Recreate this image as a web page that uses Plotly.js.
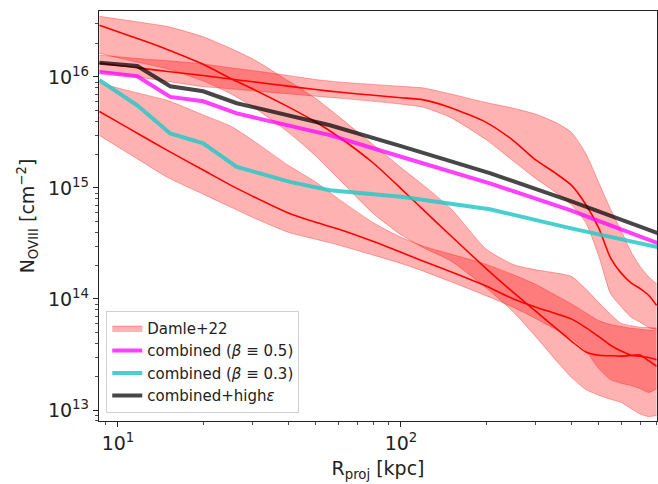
<!DOCTYPE html>
<html>
<head>
<meta charset="utf-8">
<script src="https://cdn.plot.ly/plotly-3.0.1.min.js"></script>
<style>
html,body{margin:0;padding:0;background:#fff;}
#chart{width:658px;height:484px;}
</style>
</head>
<body>
<div id="chart"></div>
<script>
// Projected radius grid for the Damle+22 bands [kpc]
const R_damle = [8.6, 10, 12, 15, 20, 25, 30, 40, 50, 60, 80, 100, 120, 150, 200, 250, 300, 350, 400, 450, 500, 550, 600, 650, 700, 750, 800];

// Damle+22 band A (steep, highest at small R)
const damleA_mid = [2.92e16, 2.55e16, 2.17e16, 1.76e16, 1.30e16, 9.69e15, 7.78e15, 5.38e15, 3.93e15, 2.91e15, 1.67e15, 9.88e14, 6.34e14, 3.71e14, 1.88e14, 1.14e14, 7.72e13, 5.54e13, 4.18e13, 3.33e13, 3.11e13, 3.08e13, 3.06e13, 3.10e13, 3.13e13, 2.78e13, 2.48e13];
const damleA_hi  = [3.52e16, 3.33e16, 3.11e16, 2.84e16, 2.30e16, 1.81e16, 1.45e16, 9.22e15, 6.38e15, 4.44e15, 2.44e15, 1.53e15, 1.06e15, 6.53e14, 2.82e14, 2.04e14, 1.83e14, 1.72e14, 1.60e14, 1.23e14, 9.28e13, 7.30e13, 6.03e13, 5.75e13, 5.57e13, 5.52e13, 5.49e13];
const damleA_lo  = [1.63e16, 1.49e16, 1.34e16, 1.18e16, 9.20e15, 7.06e15, 5.37e15, 3.17e15, 1.94e15, 1.22e15, 5.86e14, 3.79e14, 2.90e14, 2.20e14, 1.26e14, 7.59e13, 4.55e13, 2.87e13, 1.97e13, 1.53e13, 1.36e13, 1.25e13, 1.17e13, 1.03e13, 9.20e12, 8.72e12, 8.94e12];

// Damle+22 band B (flat, ~1e16 at small R)
const damleB_mid = [1.33e16, 1.27e16, 1.20e16, 1.12e16, 1.03e16, 9.57e15, 9.05e15, 8.26e15, 7.70e15, 7.31e15, 6.84e15, 6.50e15, 6.22e15, 5.29e15, 3.90e15, 2.66e15, 1.78e15, 1.37e15, 1.06e15, 7.09e14, 4.34e14, 2.35e14, 1.71e14, 1.40e14, 1.24e14, 1.08e14, 8.78e13];
const damleB_hi  = [1.57e16, 1.52e16, 1.46e16, 1.40e16, 1.31e16, 1.21e16, 1.14e16, 1.03e16, 9.48e15, 9.02e15, 8.56e15, 8.23e15, 7.96e15, 7.03e15, 5.88e15, 5.22e15, 4.61e15, 3.92e15, 3.18e15, 2.04e15, 1.12e15, 6.47e14, 4.14e14, 2.67e14, 1.96e14, 1.59e14, 1.37e14];
const damleB_lo  = [1.13e16, 1.06e16, 9.90e15, 9.11e15, 8.19e15, 7.81e15, 7.50e15, 7.05e15, 6.71e15, 6.45e15, 6.03e15, 5.69e15, 5.33e15, 4.30e15, 2.72e15, 1.74e15, 1.21e15, 9.22e14, 7.05e14, 4.86e14, 2.43e14, 1.12e14, 8.51e13, 6.84e13, 6.18e13, 5.54e13, 5.29e13];

// Damle+22 band C (lowest at small R)
const damleC_mid = [4.88e15, 3.92e15, 3.00e15, 2.17e15, 1.45e15, 1.06e15, 8.40e14, 5.95e14, 4.90e14, 4.27e14, 3.29e14, 2.63e14, 2.19e14, 1.76e14, 1.31e14, 1.00e14, 8.44e13, 7.43e13, 6.62e13, 5.53e13, 4.59e13, 3.83e13, 3.40e13, 3.12e13, 3.05e13, 2.97e13, 2.84e13];
const damleC_hi  = [8.76e15, 7.95e15, 7.07e15, 6.13e15, 4.55e15, 3.61e15, 2.68e15, 1.60e15, 1.13e15, 8.01e14, 4.85e14, 3.59e14, 2.99e14, 2.54e14, 2.05e14, 1.65e14, 1.35e14, 1.09e14, 9.03e13, 7.53e13, 6.39e13, 5.90e13, 5.66e13, 5.46e13, 5.35e13, 5.25e13, 5.15e13];
const damleC_lo  = [2.97e15, 2.34e15, 1.76e15, 1.24e15, 8.80e14, 6.73e14, 5.41e14, 3.99e14, 3.45e14, 3.07e14, 2.48e14, 2.09e14, 1.78e14, 1.43e14, 1.07e14, 8.40e13, 6.65e13, 5.37e13, 4.43e13, 3.41e13, 2.36e13, 1.88e13, 1.74e13, 1.66e13, 1.56e13, 1.44e13, 1.55e13];

// Model curves
const R_model   = [8.6, 11.7, 15.3, 20.0, 26.3, 40.5, 56.1, 100, 206, 396, 809];
const N_beta05  = [1.109e16, 1.015e16, 6.61e15, 6.04e15, 4.69e15, 3.67e15, 2.99e15, 1.91e15, 1.10e15, 6.31e14, 3.18e14];
const N_beta03  = [9.34e15, 5.56e15, 3.10e15, 2.52e15, 1.55e15, 1.135e15, 9.55e14, 8.35e14, 6.44e14, 4.35e14, 2.93e14];
const N_highEps = [1.343e16, 1.256e16, 8.25e15, 7.43e15, 5.80e15, 4.52e15, 3.67e15, 2.38e15, 1.36e15, 7.65e14, 3.92e14];

const legendNames = ['Damle+22', 'combined (<i>β</i> ≡ 0.5)', 'combined (<i>β</i> ≡ 0.3)', 'combined+high<i>ε</i>'];

// Tick labels
const xTickVals = [10, 100];
const xTickText = ['10<sup>1</sup>', '10<sup>2</sup>'];
const yTickVals = [1e13, 1e14, 1e15, 1e16];
const yTickText = ['10<sup>13</sup>', '10<sup>14</sup>', '10<sup>15</sup>', '10<sup>16</sup>'];

function minorVals(lo, hi) {
  const v = [];
  for (let e = lo; e <= hi; e++) for (let m = 2; m <= 9; m++) v.push(m * Math.pow(10, e));
  return v;
}

const fillCol = 'rgba(255,0,0,0.3)';
const edgeCol = 'rgba(255,0,0,0.3)';
const spl = {shape: 'spline', smoothing: 0.6};

function band(hi, lo, first) {
  return [
    {x: R_damle, y: hi, type: 'scatter', mode: 'lines', line: Object.assign({color: edgeCol, width: 1}, spl),
     showlegend: false, hoverinfo: 'skip'},
    {x: R_damle, y: lo, type: 'scatter', mode: 'lines', line: Object.assign({color: edgeCol, width: 1}, spl),
     fill: 'tonexty', fillcolor: fillCol, name: legendNames[0], showlegend: first, hoverinfo: 'skip'}
  ];
}
function mid(y) {
  return {x: R_damle, y: y, type: 'scatter', mode: 'lines', line: Object.assign({color: '#ff0000', width: 1.6}, spl),
          showlegend: false, hoverinfo: 'skip'};
}

const traces = [].concat(
  band(damleA_hi, damleA_lo, true),
  band(damleB_hi, damleB_lo, false),
  band(damleC_hi, damleC_lo, false),
  [mid(damleA_mid), mid(damleB_mid), mid(damleC_mid)],
  [
    {x: R_model, y: N_beta05, type: 'scatter', mode: 'lines', name: legendNames[1],
     line: {color: 'rgba(255,0,255,0.75)', width: 4}},
    {x: R_model, y: N_beta03, type: 'scatter', mode: 'lines', name: legendNames[2],
     line: {color: 'rgba(40,200,200,0.85)', width: 4}},
    {x: R_model, y: N_highEps, type: 'scatter', mode: 'lines', name: legendNames[3],
     line: {color: 'rgba(0,0,0,0.72)', width: 4}}
  ]
);

const font = 'DejaVu Sans, Arial, sans-serif';
const axisCommon = {
  type: 'log', showgrid: false, zeroline: false,
  showline: true, linecolor: '#222', linewidth: 1.2, mirror: true,
  ticks: 'outside', ticklen: 5, tickwidth: 1, tickcolor: '#222',
  tickmode: 'array',
  tickfont: {family: font, size: 19, color: '#222'}
};

const layout = {
  width: 658, height: 484,
  margin: {l: 99, r: 1, t: 11, b: 63},
  paper_bgcolor: '#fff', plot_bgcolor: '#fff',
  font: {family: font, color: '#222'},
  showlegend: true,
  xaxis: Object.assign({}, axisCommon, {
    range: [Math.log10(8.57), Math.log10(803)],
    tickvals: xTickVals, ticktext: xTickText,
    minor: {ticks: 'outside', ticklen: 3, tickwidth: 0.8, tickcolor: '#222', tickmode: 'array', tickvals: minorVals(0, 2), showgrid: false},
    title: {text: 'R<sub>proj</sub> [kpc]', font: {family: font, size: 19, color: '#222'}, standoff: 8}
  }),
  yaxis: Object.assign({}, axisCommon, {
    range: [12.901, 16.594],
    tickvals: yTickVals, ticktext: yTickText,
    minor: {ticks: 'outside', ticklen: 3, tickwidth: 0.8, tickcolor: '#222', tickmode: 'array', tickvals: minorVals(12, 16), showgrid: false},
    title: {text: 'N<sub>OVIII</sub> [cm<sup>−2</sup>]', font: {family: font, size: 19, color: '#222'}, standoff: 8}
  }),
  legend: {
    x: 0.013, y: 0.02, xanchor: 'left', yanchor: 'bottom',
    traceorder: 'normal',
    bgcolor: 'rgba(255,255,255,0.85)', bordercolor: '#d0d0d0', borderwidth: 1,
    font: {family: font, size: 15, color: '#222'},
    tracegroupgap: 0
  }
};

Plotly.newPlot('chart', traces, layout, {displayModeBar: false, staticPlot: true});
</script>
</body>
</html>
